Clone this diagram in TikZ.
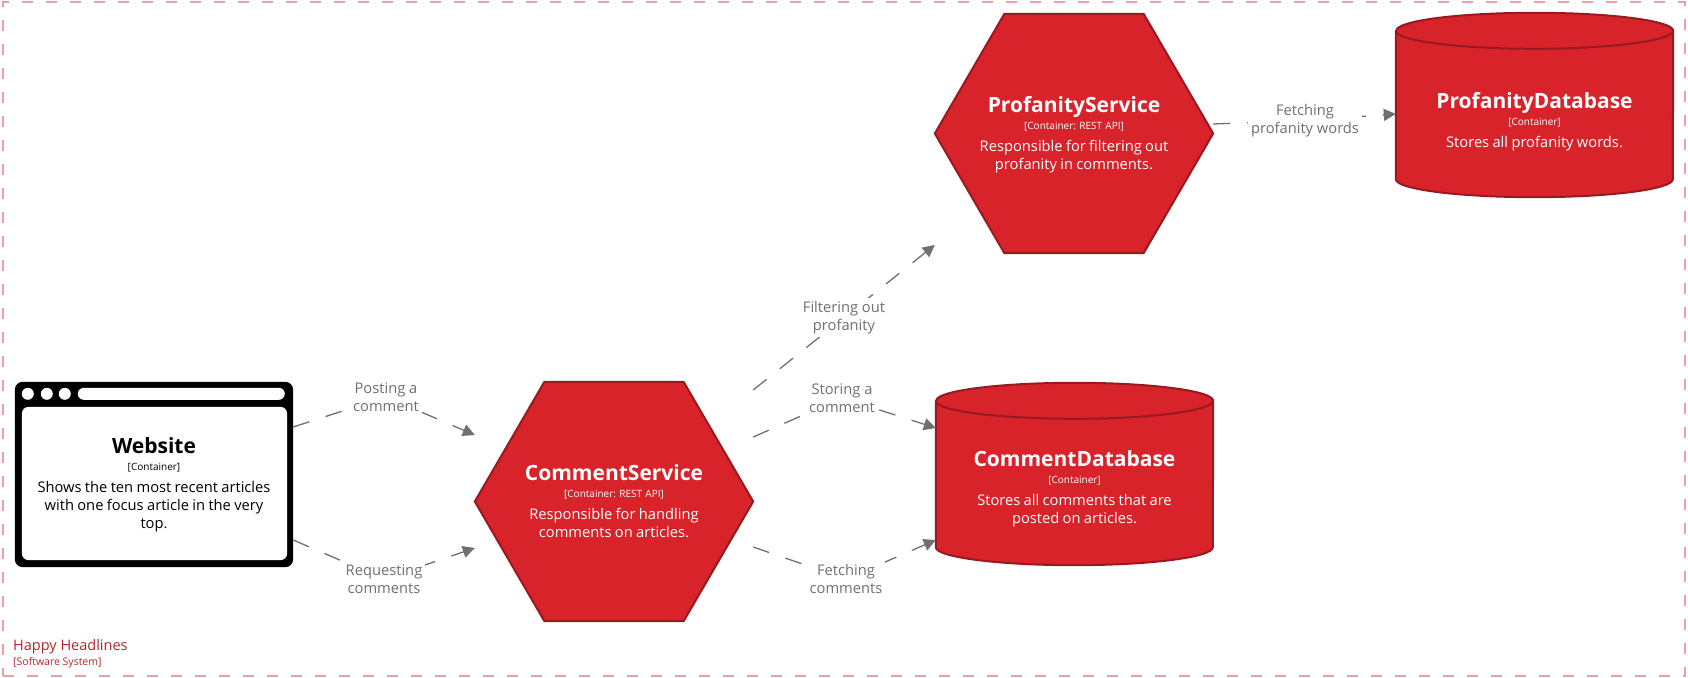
\documentclass[tikz,border=0pt]{standalone}
\usepackage{fontspec}
\setmainfont{Open Sans}
\usetikzlibrary{arrows.meta,calc}
\setlength\parindent{0pt}
\frenchspacing
\definecolor{elred}{RGB}{216,35,43}
\definecolor{elborder}{RGB}{152,25,31}
\definecolor{conngrey}{RGB}{112,112,112}
\definecolor{bndpink}{RGB}{234,160,166}
\definecolor{bndtext}{RGB}{181,36,44}
\newcommand{\elcontent}[3]{{\fontsize{21}{24}\selectfont\bfseries #1\par}{\fontsize{10}{17}\selectfont [#2]\par}\vspace{4pt}{\fontsize{14.7}{18}\selectfont #3\par}}
\begin{document}
\begin{tikzpicture}[x=1pt,y=1pt,
  redshape/.style={fill=elred, draw=elborder, line width=2pt, line join=round},
  conn/.style={draw=conngrey, line width=1.3pt, dash pattern=on 17pt off 17pt, -{Triangle[length=12pt,width=12pt]}},
  lbl/.style={fill=white, text=conngrey, font=\fontsize{14.7}{18}\selectfont, align=center, inner sep=3pt},
  box/.style={rectangle, inner sep=0pt, draw=none},
  eltext/.style={text=white, align=center, text width=266pt, inner sep=0pt},
]
\useasboundingbox (0,0) rectangle (1688,677);

% boundary
\node[box, minimum width=1682pt, minimum height=674pt, draw=bndpink, line width=1.5pt, dash pattern=on 11pt off 13pt] (hh) at (844,338) {};
\node[anchor=west, inner sep=0pt, text=bndtext, font=\fontsize{14.5}{17}\selectfont] (hhname) at (13,30) {Happy Headlines};
\node[anchor=west, inner sep=0pt, text=bndtext, font=\fontsize{10.5}{12}\selectfont] (hhtype) at (13,14) {[Software System]};

% Website
\node[box, minimum width=278pt, minimum height=185pt] (web) at (154,202.5) {};
\fill[black, rounded corners=8pt] (web.south west) rectangle (web.north east);
\fill[white, rounded corners=7pt] ([xshift=7pt,yshift=7pt]web.south west) rectangle ([xshift=-6pt,yshift=-25pt]web.north east);
\foreach \dx in {13,32,50} \fill[white] ([xshift=\dx pt,yshift=-12pt]web.north west) circle (6pt);
\fill[white, rounded corners=6pt] ([xshift=63pt,yshift=-18pt]web.north west) rectangle ([xshift=270pt,yshift=-6pt]web.north west);
\node[eltext, text=black] (webtext) at (154,192) {\elcontent{Website}{Container}{Shows the ten most recent articles\\with one focus article in the very\\top.}};

% CommentService
\node[box, minimum width=278pt, minimum height=239pt] (cs) at (614,175.5) {};
\draw[redshape] (cs.west) -- ($(cs.north west)!.25!(cs.north east)$) -- ($(cs.north west)!.75!(cs.north east)$) -- (cs.east) -- ($(cs.south west)!.75!(cs.south east)$) -- ($(cs.south west)!.25!(cs.south east)$) -- cycle;
\node[eltext] (cstext) at (614,176) {\elcontent{CommentService}{Container: REST API}{Responsible for handling\\comments on articles.}};

% ProfanityService
\node[box, minimum width=278pt, minimum height=239pt] (ps) at (1074,543.5) {};
\draw[redshape] (ps.west) -- ($(ps.north west)!.25!(ps.north east)$) -- ($(ps.north west)!.75!(ps.north east)$) -- (ps.east) -- ($(ps.south west)!.75!(ps.south east)$) -- ($(ps.south west)!.25!(ps.south east)$) -- cycle;
\node[eltext] (pstext) at (1074,542) {\elcontent{ProfanityService}{Container: REST API}{Responsible for filtering out\\profanity in comments.}};

% ProfanityDatabase
\node[box, minimum width=277pt, minimum height=184pt] (pdb) at (1534.5,572) {};
\draw[redshape] ([yshift=-18pt]pdb.north west) -- ([yshift=18pt]pdb.south west) arc[start angle=180,end angle=360,x radius=138.5pt,y radius=18pt] -- ([yshift=-18pt]pdb.north east) arc[start angle=0,end angle=180,x radius=138.5pt,y radius=18pt] -- cycle;
\draw[draw=elborder, line width=2pt] ([yshift=-18pt]pdb.north west) arc[start angle=180,end angle=360,x radius=138.5pt,y radius=18pt];
\node[eltext] (pdbtext) at (1534.5,555) {\elcontent{ProfanityDatabase}{Container}{Stores all profanity words.}};

% CommentDatabase
\node[box, minimum width=277pt, minimum height=182pt] (cdb) at (1074.5,203) {};
\draw[redshape] ([yshift=-18pt]cdb.north west) -- ([yshift=18pt]cdb.south west) arc[start angle=180,end angle=360,x radius=138.5pt,y radius=18pt] -- ([yshift=-18pt]cdb.north east) arc[start angle=0,end angle=180,x radius=138.5pt,y radius=18pt] -- cycle;
\draw[draw=elborder, line width=2pt] ([yshift=-18pt]cdb.north west) arc[start angle=180,end angle=360,x radius=138.5pt,y radius=18pt];
\node[eltext] (cdbtext) at (1074.5,188) {\elcontent{CommentDatabase}{Container}{Stores all comments that are\\posted on articles.}};

% connectors
\draw[conn] ([yshift=47.5pt]web.east) -- (386,280) node[lbl] (l1) {Posting a\\comment} -- ([yshift=66.5pt]cs.west);
\draw[conn] ([yshift=-65.5pt]web.east) -- (384,98) node[lbl] (l2) {Requesting\\comments} -- ([yshift=-46.5pt]cs.west);
\draw[conn] ([yshift=111.5pt]cs.east) -- node[lbl] (l3) {Filtering out\\profanity} ([yshift=-111.5pt]ps.west);
\draw[conn] ([yshift=64.5pt]cs.east) -- (842,279) node[lbl] (l4) {Storing a\\comment} -- ([yshift=46pt]cdb.west);
\draw[conn] ([yshift=-45.5pt]cs.east) -- (846,98) node[lbl] (l5) {Fetching\\comments} -- ([yshift=-66pt]cdb.west);
\draw[conn] ([yshift=9.5pt]ps.east) -- (1305,556.5) node[lbl] (l6) {Fetching\\profanity words} -- ([yshift=-9pt]pdb.west);
\end{tikzpicture}
\end{document}
